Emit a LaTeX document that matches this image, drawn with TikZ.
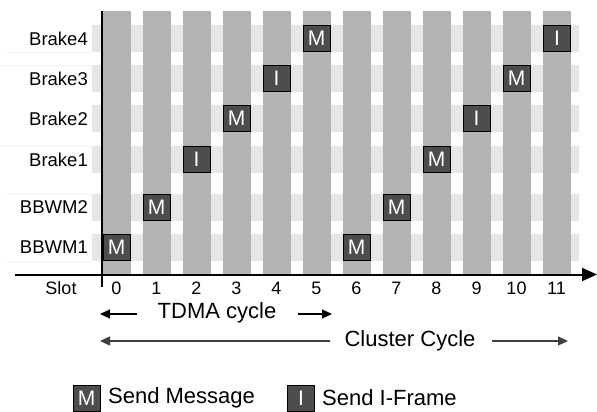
\documentclass[tikz,border=0pt]{standalone}
\usepackage{fontspec}
\setmainfont{Liberation Sans}
\usetikzlibrary{arrows.meta}
\definecolor{bandgray}{HTML}{E6E6E6}
\definecolor{bargray}{HTML}{B3B3B3}
\definecolor{boxgray}{HTML}{4D4D4D}
\definecolor{faint}{HTML}{F2F2F2}
\begin{document}
\begin{tikzpicture}[x=1pt,y=-1pt,
  band/.style={fill=bandgray,draw=none},
  slotbar/.style={fill=bargray,draw=none},
  msgbox/.style={draw=black,line width=0.8pt,fill=boxgray,text=white,minimum width=27pt,minimum height=26pt,inner sep=0pt,font=\fontsize{21}{22}\selectfont},
  rowlabel/.style={anchor=east,inner sep=0pt,font=\fontsize{18.5}{20}\selectfont},
  numlabel/.style={inner sep=0pt,font=\fontsize{18}{20}\selectfont},
  biglabel/.style={inner sep=0pt,font=\fontsize{22}{24}\selectfont},
  cyclearrow/.style={line width=1.2pt,-{Triangle[length=10pt,width=9pt]}}
]
\useasboundingbox (0,0) rectangle (597,412);
% faint separators in label area
\foreach \yy/\xs in {52/7,65/0,146/0,194/7,261/7}
  \draw[faint,line width=0.8pt] (\xs,\yy) -- (92,\yy);
% bands
\foreach \t in {25,65,105,146,194,234}
  \fill[bandgray] (92,\t) rectangle (579,\t+27);
% slot bars
\foreach \k in {0,...,11}
  \fill[bargray] (102.5+40*\k,11) rectangle (130.5+40*\k,274);
% row labels
\node[rowlabel] (l6) at (88,38.5) {Brake4};
\node[rowlabel] (l5) at (88,78.5) {Brake3};
\node[rowlabel] (l4) at (88,118.5) {Brake2};
\node[rowlabel] (l3) at (88,159.5) {Brake1};
\node[rowlabel] (l2) at (88,207.5) {BBWM2};
\node[rowlabel] (l1) at (88,247.5) {BBWM1};
% message boxes
\node[msgbox] (b0) at (116.5,247.5) {M};
\node[msgbox] (b1) at (156.5,207.5) {M};
\node[msgbox] (b2) at (196.5,159.5) {I};
\node[msgbox] (b3) at (236.5,118.5) {M};
\node[msgbox] (b4) at (276.5,78.5) {I};
\node[msgbox] (b5) at (316.5,38.5) {M};
\node[msgbox] (b6) at (356.5,247.5) {M};
\node[msgbox] (b7) at (396.5,207.5) {M};
\node[msgbox] (b8) at (436.5,159.5) {M};
\node[msgbox] (b9) at (476.5,118.5) {I};
\node[msgbox] (b10) at (516.5,78.5) {M};
\node[msgbox] (b11) at (557,38.5) {I};
% axes
\coordinate (xa0) at (15,274.5);
\coordinate (xa1) at (597,274.5);
\coordinate (ya0) at (102,11);
\coordinate (ya1) at (102,287);
\draw[line width=2pt,-{Triangle[length=15pt,width=13pt]}] (xa0) -- (xa1);
\draw[line width=1.6pt] (ya0) -- (ya1);
% slot numbers
\node[numlabel] (slot) at (61,288) {Slot};
\foreach \k in {0,...,11}
  \node[numlabel] (n\k) at (116.5+40*\k,288) {\k};
% TDMA cycle
\node[biglabel] (tdma) at (217,313) {TDMA cycle};
\coordinate (t0) at (137,314);
\coordinate (t1) at (100,314);
\coordinate (t2) at (298,314);
\coordinate (t3) at (332,314);
\draw[cyclearrow] (t0) -- (t1);
\draw[cyclearrow] (t2) -- (t3);
% Cluster cycle
\node[biglabel] (cluster) at (410,341) {Cluster Cycle};
\coordinate (c0) at (330,341);
\coordinate (c1) at (100,341);
\coordinate (c2) at (492,341);
\coordinate (c3) at (568,341);
\draw[cyclearrow,draw=black!75] (c0) -- (c1);
\draw[cyclearrow,draw=black!75] (c2) -- (c3);
% legend
\node[msgbox] (lm) at (86.5,398) {M};
\node[biglabel,anchor=west] (lmt) at (108,398) {Send Message};
\node[msgbox] (li) at (301,398) {I};
\node[biglabel,anchor=west] (lit) at (322,398) {Send I-Frame};
\end{tikzpicture}
\end{document}
